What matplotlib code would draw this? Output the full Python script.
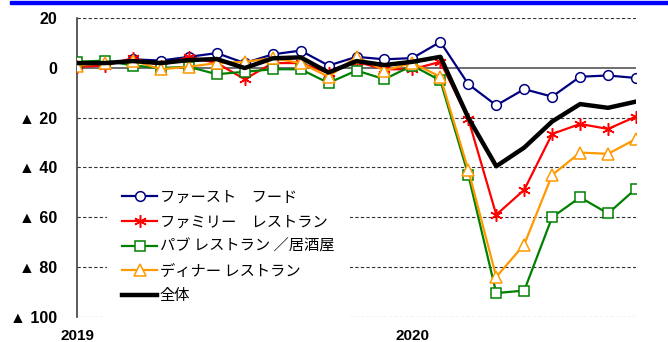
# -*- coding : utf-8 -*-
import numpy as np
import matplotlib
matplotlib.use('Agg')
import matplotlib.pyplot as plt
from matplotlib.patches import Rectangle
"外食産業 業態別 売上高 前年同月比 (2019年1月〜2020年9月)"

months = ['2019-%02d' % m for m in range(1, 13)] + ['2020-%02d' % m for m in range(1, 10)]
year_ticks = ['2019-01', '2020-01']
year_labels = ['2019', '2020']

fast_food = [1, 1.5, 3.5, 3, 4.5, 6, 2, 5.5, 7, 1, 4.5, 3.5, 4, 10.5,
             -6.5, -15, -8.5, -11.5, -3.5, -3, -4]
family = [0.5, 1, 4, 1, 4.5, 2, -4.5, 2, 2, -2, 2.5, -0.5, -0.5, 2.5,
          -20.5, -59, -49, -26.5, -22.5, -24.5, -19.5]
pub = [2.5, 3, 1, 0, 0.5, -2.5, -1.5, -0.5, -0.5, -6, -1, -4.5, 1, -5,
       -43, -90.5, -89.5, -60, -52, -58.5, -48.5]
dinner = [1, 2, 3, -0.5, 0.5, 2, 2.5, 4, 2, -3.5, 4.5, -1, 2, -3.5,
          -41, -84, -71, -43, -34, -34.5, -28.5]
total = [2, 2, 2.8, 2, 3.2, 3.6, 0, 3.9, 4.3, -1.8, 2.8, 1.2, 2.5, 4.5,
         -20, -39.5, -32, -21.5, -14.5, -16, -13.5]

y_ticks = [20, 0, -20, -40, -60, -80, -100]
y_labels = ['20', '0', '▲ 20', '▲ 40', '▲ 60', '▲ 80', '▲ 100']

series_names = ['ファースト　フード', 'ファミリー　レストラン', 'パブ レストラン ／居酒屋',
                'ディナー レストラン', '全体']


def main():
    fig = plt.figure(figsize=(6.68, 3.42), dpi=100)
    ax = fig.add_axes([0.1153, 0.074, 0.8368, 0.8725])
    x = np.arange(len(months))

    # 上端の青い帯
    fig.patches.append(Rectangle((0.015, 0.987), 0.985, 0.01, transform=fig.transFigure,
                                 color='#0000FF', zorder=0))

    # 目盛線
    for v in y_ticks:
        if v == 0:
            ax.axhline(v, color='#555555', lw=1.2, zorder=1)
        else:
            ax.axhline(v, color='#333333', lw=0.8, ls=(0, (3, 2)), zorder=1)

    mk = dict(markerfacecolor='white', markersize=7, markeredgewidth=1.1)
    ax.plot(x, fast_food, color='#000080', lw=1.6, marker='o', markeredgecolor='#000080',
            label=series_names[0], zorder=3, **mk)
    ax.plot(x, family, color='#FF0000', lw=1.6, marker=(6, 2, 0), markeredgecolor='#FF0000',
            markersize=9, markeredgewidth=1.1, label=series_names[1], zorder=3)
    ax.plot(x, pub, color='#008000', lw=1.6, marker='s', markeredgecolor='#008000',
            label=series_names[2], zorder=3, **mk)
    ax.plot(x, dinner, color='#FF9900', lw=1.6, marker='^', markeredgecolor='#FF9900',
            label=series_names[3], zorder=3, markerfacecolor='white', markersize=8,
            markeredgewidth=1.1)
    ax.plot(x, total, color='black', lw=3.2, label=series_names[4], zorder=4)

    ax.set_xlim(0, len(months) - 1)
    ax.set_ylim(-100, 20)
    ax.set_yticks(y_ticks)
    ax.set_yticklabels(y_labels, fontweight='bold', fontsize=11.5,
                       family=['Liberation Sans', 'DejaVu Sans'])
    ax.set_xticks([months.index(m) for m in year_ticks])
    ax.set_xticklabels(year_labels, fontweight='bold', fontsize=11,
                       family=['Liberation Sans', 'DejaVu Sans'])
    ax.tick_params(axis='y', length=0, pad=14)
    ax.tick_params(axis='x', length=0, pad=9)

    for s in ['top', 'right', 'bottom']:
        ax.spines[s].set_visible(False)
    ax.spines['left'].set_color('#404040')
    ax.spines['left'].set_linewidth(1.2)
    ax.spines['left'].set_zorder(2)

    leg = ax.legend(loc='upper left', bbox_to_anchor=(0.0537, 0.48), frameon=True,
                    prop={'family': ['Noto Sans CJK JP', 'DejaVu Sans'], 'size': 11},
                    handlelength=2.3, handletextpad=0.15, labelspacing=0.5,
                    borderpad=1.0, borderaxespad=0, fancybox=False)
    leg.get_frame().set_edgecolor('none')
    leg.get_frame().set_facecolor('white')
    leg.get_frame().set_alpha(1)
    leg.set_zorder(5)

    plt.savefig('out.png', dpi=100)


if __name__ == '__main__':
    main()
